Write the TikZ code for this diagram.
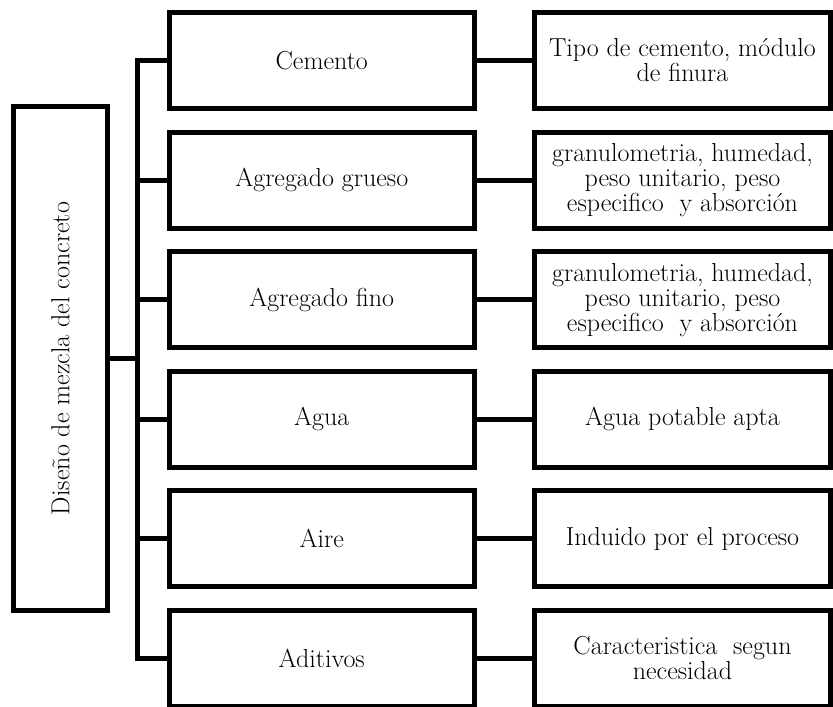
\documentclass[tikz,border=0pt]{standalone}
\begin{document}
\begin{tikzpicture}[x=1pt,y=-1pt,line width=5pt,line join=miter,
    txt/.style={font=\fontsize{26}{25}\selectfont,align=center,inner sep=0pt},
    caja/.style={draw,txt,minimum width=305.5pt,minimum height=96pt},
    dato/.style={draw,txt,minimum width=296pt,minimum height=96pt}]
    \useasboundingbox (0,0) rectangle (833,707);
    \node[draw,txt,rotate=90,minimum width=504pt,minimum height=94pt] (raiz) at (60.5,358.5) {Diseño de mezcla del concreto};
    \node[caja] (cemento)  at (321.75,60.5)  {Cemento};
    \node[caja] (grueso)   at (321.75,180.1) {Agregado grueso};
    \node[caja] (fino)     at (321.75,299.7) {Agregado fino};
    \node[caja] (agua)     at (321.75,419.3) {Agua};
    \node[caja] (aire)     at (321.75,538.9) {Aire};
    \node[caja] (aditivos) at (321.75,658.5) {Aditivos};
    \node[dato] (dcemento)  at (682.5,60.5)  {Tipo de cemento, módulo\\de finura};
    \node[dato] (dgrueso)   at (682.5,180.1) {granulometria, humedad,\\peso unitario, peso\\especifico\ \ y absorción};
    \node[dato] (dfino)     at (682.5,299.7) {granulometria, humedad,\\peso unitario, peso\\especifico\ \ y absorción};
    \node[dato] (dagua)     at (682.5,419.3) {Agua potable apta};
    \node[dato] (daire)     at (682.5,538.9) {Induido por el proceso};
    \node[dato] (daditivos) at (682.5,658.5) {Caracteristica\ \ segun\\necesidad};
    % barra vertical
    \coordinate (bus) at (137.5,0);
    \draw (cemento.west) -- (cemento.west -| bus) -- (aditivos.west -| bus) -- (aditivos.west);
    \draw (raiz) -- (raiz -| bus);
    \draw (grueso.west) -- (grueso.west -| bus);
    \draw (fino.west)   -- (fino.west -| bus);
    \draw (agua.west)   -- (agua.west -| bus);
    \draw (aire.west)   -- (aire.west -| bus);
    % hacia la derecha
    \draw (cemento)  -- (dcemento);
    \draw (grueso)   -- (dgrueso);
    \draw (fino)     -- (dfino);
    \draw (agua)     -- (dagua);
    \draw (aire)     -- (daire);
    \draw (aditivos) -- (daditivos);
\end{tikzpicture}
\end{document}
